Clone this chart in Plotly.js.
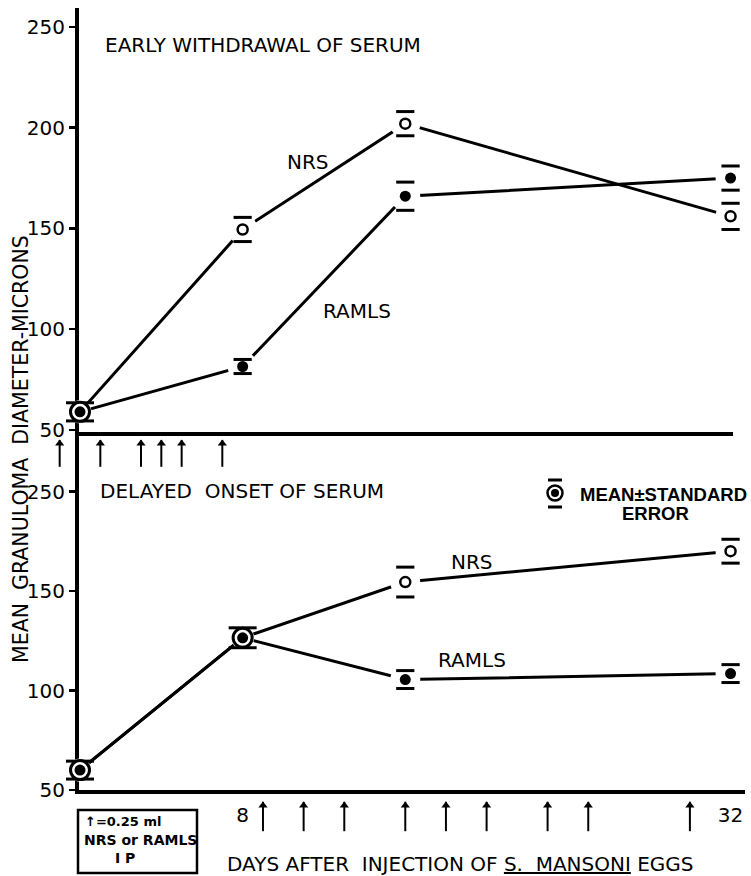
<!DOCTYPE html>
<html><head><meta charset="utf-8">
<script src="https://cdn.plot.ly/plotly-3.0.1.min.js"></script>
<style>html,body{margin:0;padding:0;background:#fff}</style>
</head><body><div id="chart" style="width:751px;height:876px"></div>
<script>
// ---- data ----
const days = [0, 8, 16, 32];
const earlyNRS = [59, 149.5, 202, 156];
const earlyNRSse = [4.5, 6, 6, 6.5];
const earlyRAMLS = [59, 81.5, 166, 175];
const earlyRAMLSse = [4.5, 3.5, 7, 6];
const delayedNRS = [60, 126.5, 154.5, 170];
const delayedNRSse = [4.5, 5, 7.5, 6];
const delayedRAMLS = [60, 126.5, 105.5, 108.5];
const delayedRAMLSse = [4.5, 5, 4.5, 4.5];
const earlyInjectionDays = [-1, 1, 3, 4, 5, 7];
const delayedInjectionDays = [9, 11, 13, 16, 18, 20, 23, 25, 30];
const xTickDays = [8, 32];
const topYTickVals = [50, 100, 150, 200, 250];
const bottomYTickVals = [50, 100, 150, 200];
const bottomYTickText = ['50', '100', '150', '250'];

// ---- layout helpers (pixel -> paper) ----
const W = 751, H = 876;
const px = v => v / W, py = v => 1 - v / H;
const X0 = 80, PXD = 20.33;
const dayAt = p => (p - X0) / PXD;
const FONT = 'DejaVu Sans';

function panelTraces(nrs, nrsSe, ramls, ramlsSe, xa, ya) {
  const shared = days.map((d, i) => nrs[i] === ramls[i]);
  const base = {xaxis: xa, yaxis: ya, hoverinfo: 'skip', showlegend: false, cliponaxis: false};
  const line = {color: '#000', width: 3};
  const t = [];
  t.push(Object.assign({}, base, {x: days, y: nrs, mode: 'lines', line: line, name: 'NRS'}));
  t.push(Object.assign({}, base, {x: days, y: ramls, mode: 'lines', line: line, name: 'RAMLS'}));
  // white halos (gap between lines and symbols)
  const hx = [], hy = [], hs = [];
  days.forEach((d, i) => {
    hx.push(d); hy.push(nrs[i]); hs.push(shared[i] ? 23 : 30);
    if (!shared[i]) { hx.push(d); hy.push(ramls[i]); hs.push(30); }
  });
  t.push(Object.assign({}, base, {x: hx, y: hy, mode: 'markers',
    marker: {color: '#fff', opacity: 1, size: hs, line: {width: 0}}}));
  // standard-error caps
  const cx = [], cy = [], cs = [];
  days.forEach((d, i) => {
    const s = shared[i] ? 20 : 13;
    cx.push(d, d); cy.push(nrs[i] + nrsSe[i], nrs[i] - nrsSe[i]); cs.push(s, s);
    if (!shared[i]) { cx.push(d, d); cy.push(ramls[i] + ramlsSe[i], ramls[i] - ramlsSe[i]); cs.push(s, s); }
  });
  t.push(Object.assign({}, base, {x: cx, y: cy, mode: 'markers',
    marker: {symbol: 'line-ew', opacity: 1, size: cs, color: '#000', line: {color: '#000', width: 3}}}));
  // NRS: open circles (ring when coincident with RAMLS)
  t.push(Object.assign({}, base, {x: days, y: nrs, mode: 'markers', name: 'NRS',
    marker: {symbol: 'circle', opacity: 1, color: '#fff', size: shared.map(s => s ? 19 : 10),
             line: {color: '#000', width: shared.map(s => s ? 3 : 2.5)}}}));
  // RAMLS: filled circles
  t.push(Object.assign({}, base, {x: days, y: ramls, mode: 'markers', name: 'RAMLS',
    marker: {symbol: 'circle', opacity: 1, color: '#000', size: 11, line: {width: 0}}}));
  return t;
}

const traces = []
  .concat(panelTraces(earlyNRS, earlyNRSse, earlyRAMLS, earlyRAMLSse, 'x2', 'y2'))
  .concat(panelTraces(delayedNRS, delayedNRSse, delayedRAMLS, delayedRAMLSse, 'x', 'y'));

// injection arrows: on a full-page day axis (x3) with a pixel-row axis (y3)
function arrowTraces(daysArr, top, bottom) {
  const base = {x: daysArr, xaxis: 'x3', yaxis: 'y3', mode: 'markers', cliponaxis: false,
    hoverinfo: 'skip', showlegend: false};
  return [
    Object.assign({}, base, {y: daysArr.map(() => (top + bottom) / 2 + 2),
      marker: {symbol: 'line-ns', size: bottom - top - 4, opacity: 1, line: {color: '#000', width: 2}}}),
    Object.assign({}, base, {y: daysArr.map(() => top + 3.5),
      marker: {symbol: 'triangle-up', size: 8, opacity: 1, color: '#000', line: {width: 0}}})
  ];
}
traces.push(...arrowTraces(earlyInjectionDays, 440, 463));
traces.push(...arrowTraces(delayedInjectionDays, 802, 827));

const axisCommon = {showline: true, linecolor: '#000', linewidth: 4, showgrid: false, zeroline: false,
  layer: 'below traces', automargin: false, fixedrange: true};

function ann(text, x, y, opts) {
  return Object.assign({text: text, x: px(x), y: py(y), xref: 'paper', yref: 'paper', showarrow: false,
    xanchor: 'center', yanchor: 'middle', font: {size: 20, color: '#000', family: FONT}}, opts || {});
}

const layout = {
  width: W, height: H, margin: {l: 0, r: 0, t: 0, b: 0},
  paper_bgcolor: '#fff', plot_bgcolor: 'rgba(0,0,0,0)', showlegend: false,
  font: {family: FONT, color: '#000'},
  xaxis: Object.assign({}, axisCommon, {domain: [px(79), px(745)], range: [dayAt(79), dayAt(745)], anchor: 'y',
    tickmode: 'array', tickvals: xTickDays, ticktext: xTickDays.map(String), ticks: '',
    ticklabelstandoff: 4, tickfont: {size: 20, family: FONT}}),
  xaxis2: Object.assign({}, axisCommon, {domain: [px(79), px(733)], range: [dayAt(79), dayAt(733)], anchor: 'y2',
    showticklabels: false, ticks: ''}),
  xaxis3: {domain: [0, 1], range: [dayAt(0), dayAt(W)], anchor: 'y3', visible: false, fixedrange: true},
  yaxis: Object.assign({}, axisCommon, {domain: [py(790), py(432)], range: [50, 229.9], anchor: 'x',
    tickmode: 'array', tickvals: bottomYTickVals, ticktext: bottomYTickText,
    ticks: 'outside', ticklen: 6, tickwidth: 2.5, tickcolor: '#000', tickfont: {size: 20, family: FONT}}),
  yaxis2: Object.assign({}, axisCommon, {domain: [py(432), py(8)], range: [49, 259.4], anchor: 'x2',
    tickmode: 'array', tickvals: topYTickVals, ticktext: topYTickVals.map(String),
    ticks: 'outside', ticklen: 6, tickwidth: 2.5, tickcolor: '#000', tickfont: {size: 20, family: FONT}}),
  yaxis3: {domain: [0, 1], range: [H, 0], anchor: 'x3', visible: false, fixedrange: true},
  annotations: [
    ann('EARLY WITHDRAWAL OF SERUM', 103, 45, {xanchor: 'left'}),
    ann('NRS', 308, 162),
    ann('RAMLS', 357, 311),
    ann('DELAYED\u00a0 ONSET OF SERUM', 98, 491, {xanchor: 'left'}),
    ann('NRS', 472, 562),
    ann('RAMLS', 472, 660),
    ann('<b>MEAN±STANDARD</b>', 578, 494, {xanchor: 'left', font: {size: 18.5, color: '#000', family: 'Liberation Sans'}}),
    ann('<b>ERROR</b>', 655, 513, {font: {size: 18.5, color: '#000', family: 'Liberation Sans'}}),
    ann('MEAN\u00a0 GRANULOMA\u00a0 DIAMETER-MICRONS', 21, 449, {textangle: -90, font: {size: 20.5, color: '#000', family: FONT}}),
    ann('DAYS AFTER\u00a0 INJECTION OF <span style="text-decoration:underline">S.\u00a0 MANSONI</span> EGGS', 460, 864),
    ann('<b>↑=0.25 ml</b>', 83, 821, {xanchor: 'left', font: {size: 13, color: '#000', family: FONT}}),
    ann('<b>NRS or RAMLS</b>', 140, 840, {font: {size: 14, color: '#000', family: FONT}}),
    ann('<b>I P</b>', 125, 858, {font: {size: 14, color: '#000', family: FONT}})
  ],
  shapes: [
    // dose box
    {type: 'rect', xref: 'paper', yref: 'paper', x0: px(78), x1: px(197), y0: py(810), y1: py(873),
     line: {color: '#000', width: 2.5}, fillcolor: 'rgba(0,0,0,0)'},
    // legend symbol: caps, ring and dot
    {type: 'line', xref: 'paper', yref: 'paper', x0: px(548), x1: px(562), y0: py(480), y1: py(480), line: {color: '#000', width: 3}},
    {type: 'line', xref: 'paper', yref: 'paper', x0: px(548), x1: px(562), y0: py(507), y1: py(507), line: {color: '#000', width: 3}},
    {type: 'circle', xref: 'paper', yref: 'paper', x0: px(547.5), x1: px(562.5), y0: py(485.5), y1: py(500.5),
     line: {color: '#000', width: 2.5}, fillcolor: '#fff'},
    {type: 'circle', xref: 'paper', yref: 'paper', x0: px(551), x1: px(559), y0: py(489), y1: py(497),
     line: {width: 0}, fillcolor: '#000'}
  ]
};

Plotly.newPlot('chart', traces, layout, {staticPlot: true, displayModeBar: false});
</script></body></html>
